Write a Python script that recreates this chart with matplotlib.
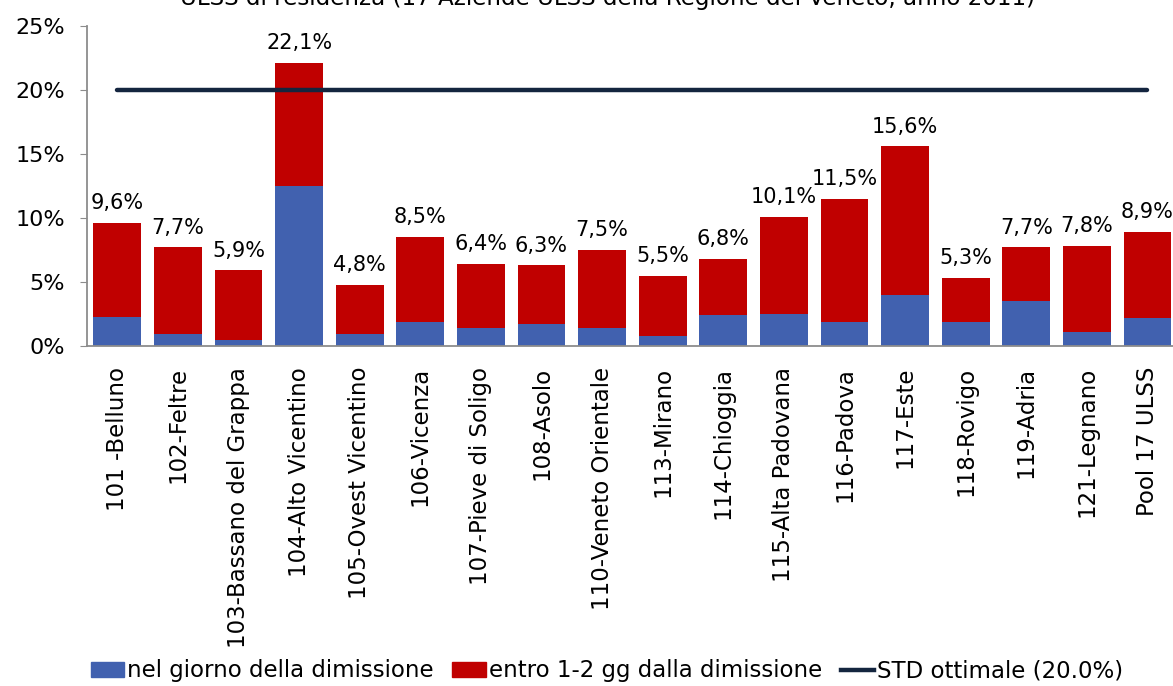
import matplotlib
matplotlib.use("Agg")
import matplotlib.pyplot as plt
from matplotlib.patches import Patch
from matplotlib.lines import Line2D
import numpy as np

# Data
categories = ["101 -Belluno", "102-Feltre", "103-Bassano del Grappa", "104-Alto Vicentino",
              "105-Ovest Vicentino", "106-Vicenza", "107-Pieve di Soligo", "108-Asolo",
              "110-Veneto Orientale", "113-Mirano", "114-Chioggia", "115-Alta Padovana",
              "116-Padova", "117-Este", "118-Rovigo", "119-Adria", "121-Legnano", "Pool 17 ULSS"]
totals = [9.6, 7.7, 5.9, 22.1, 4.8, 8.5, 6.4, 6.3, 7.5, 5.5, 6.8, 10.1, 11.5, 15.6, 5.3, 7.7, 7.8, 8.9]
same_day = [2.3, 0.9, 0.5, 12.5, 0.9, 1.9, 1.4, 1.7, 1.4, 0.8, 2.4, 2.5, 1.9, 4.0, 1.9, 3.5, 1.1, 2.2]
std_target = 20.0

title = "ULSS di residenza (17 Aziende ULSS della Regione del Veneto, anno 2011)"
legend_labels = ["nel giorno della dimissione", "entro 1-2 gg dalla dimissione",
                 "STD ottimale (20.0%)"]

BLUE = "#4161AF"
RED = "#C00000"
NAVY = "#14253F"

plt.rcParams["font.family"] = ["DejaVu Sans"]

W, H = 1173, 686
fig = plt.figure(figsize=(W / 100, H / 100), dpi=100)
ax = fig.add_axes([87 / W, 1 - 346 / H, 18 * 60.6 / W, 320 / H])

x = np.arange(len(categories))
within = np.array(totals) - np.array(same_day)
ax.bar(x, same_day, width=0.79, color=BLUE, zorder=2)
ax.bar(x, within, bottom=same_day, width=0.79, color=RED, zorder=2)
ax.plot([x[0], x[-1]], [std_target, std_target], color=NAVY, lw=3.2,
        solid_capstyle="round", zorder=3)

for xi, t in zip(x, totals):
    ax.annotate(f"{t:.1f}%".replace(".", ","), (xi, t), xytext=(0, 7),
                textcoords="offset points", ha="center", va="bottom", fontsize=15)

ax.set_xlim(-0.5, len(categories) - 0.5)
ax.set_ylim(0, 25)
ax.set_yticks(range(0, 26, 5))
ax.set_yticklabels([f"{v}%" for v in range(0, 26, 5)], fontsize=16)
ax.set_xticks(x)
ax.set_xticklabels(categories, rotation=90, fontsize=16.5)
ax.tick_params(axis="x", length=0, pad=15)
ax.tick_params(axis="y", length=5, color="#8C8C8C", pad=11)
for s in ["top", "right"]:
    ax.spines[s].set_visible(False)
for s in ["left", "bottom"]:
    ax.spines[s].set_color("#8C8C8C")
    ax.spines[s].set_linewidth(1.3)

fig.text(607 / W, 1 - 5 / H, title, ha="center", va="baseline", fontsize=16.6)

handles = [Patch(color=BLUE), Patch(color=RED), Line2D([], [], color=NAVY, lw=3.2)]
fig.legend(handles, legend_labels, loc="center", bbox_to_anchor=(607 / W, 1 - 671 / H),
           ncol=3, frameon=False, fontsize=16.5, handlelength=1.45, handleheight=0.6,
           handletextpad=0.15, columnspacing=0.8, borderpad=0)

fig.savefig("out.png", dpi=100)
